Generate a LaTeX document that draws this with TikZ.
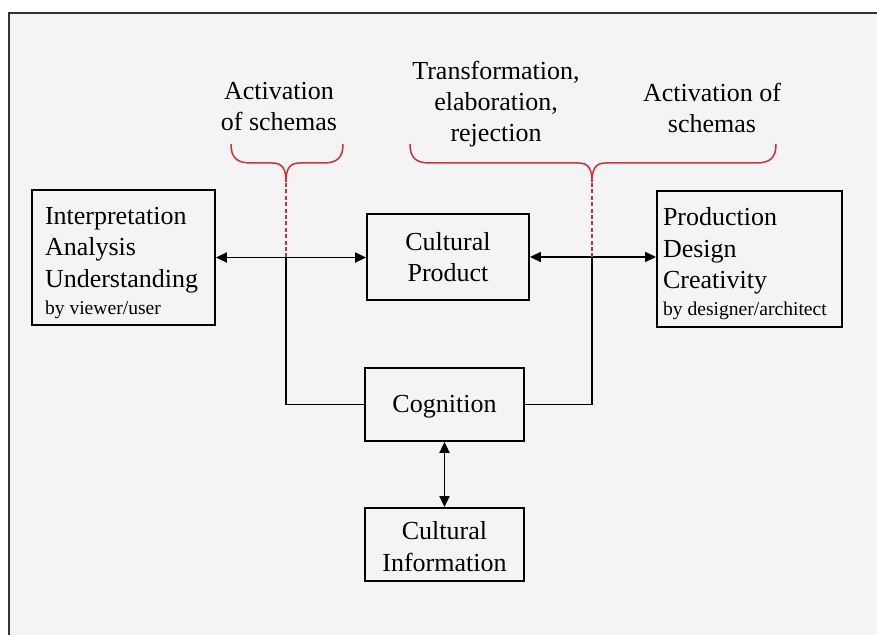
\documentclass[tikz,border=0pt]{standalone}
\usepackage{fontspec}
\setmainfont{Liberation Serif}
\usepackage{tikz}
\usetikzlibrary{arrows.meta, positioning, calc}

\definecolor{slidebg}{HTML}{F4F4F4}
\definecolor{bracered}{HTML}{D0303A}

\tikzset{
    box/.style={draw, line width=0.9pt, inner ysep=0pt, font=\fontsize{13}{15.7}\selectfont},
    link/.style={line width=0.9pt},
    arr/.style={link, {Triangle[length=5.5pt,width=5pt]}-{Triangle[length=5.5pt,width=5pt]}},
    reddash/.style={bracered, line width=0.6pt, dash pattern=on 2pt off 1.2pt},
    bracestyle/.style={bracered, line width=0.75pt},
    caption/.style={align=center, font=\fontsize{13}{15.5}\selectfont}
}

\begin{document}
\begin{tikzpicture}[x=0.5pt, y=-0.5pt]

    % Cadre
    \useasboundingbox (0,0) rectangle (877,635);
    \draw[fill=slidebg, line width=1pt, draw=black!80] (9,13) rectangle (890,650);

    % Boites
    \node[box, minimum width=91.5pt, minimum height=67.5pt, text width=78.5pt,
          inner xsep=6.5pt, align=flush left] (interp) at (123.5,257.5)
        {\rule{0pt}{14pt}Interpretation\\Analysis\\Understanding\\[-2pt]{\fontsize{9.8}{12}\selectfont by viewer/user}};
    \node[box, minimum width=81pt, minimum height=43pt, align=center] (product) at (448,257)
        {Cultural\\Product};
    \node[box, minimum width=92.5pt, minimum height=68pt, text width=86.5pt,
          inner xsep=3pt, align=flush left] (produce) at (749.5,259)
        {\rule{0pt}{14pt}Production\\Design\\Creativity\\[-2pt]{\fontsize{9.8}{12}\selectfont by designer/architect}};
    \node[box, minimum width=79.5pt, minimum height=36.5pt, text depth=1pt] (cognition) at (444.5,404.5)
        {Cognition};
    \node[box, minimum width=79.5pt, minimum height=36.5pt, align=center] (info) at (444.5,544.5)
        {\rule{0pt}{11pt}Cultural\\Information};

    % Textes du haut
    \node[caption] (actleft) at (279,107) {Activation\\of schemas};
    \node[caption] (transform) at (496,104) {Transformation,\\elaboration,\\rejection};
    \node[caption] (actright) at (712,108) {Activation of\\schemas};

    % Fleches
    \draw[arr] (interp.east) -- (interp.east -| product.west);
    \draw[arr] (product.east) -- (product.east -| produce.west);
    \draw[arr] (cognition.south) -- (info.north);

    % Boucles vers les accolades
    \coordinate (ljoin) at (286,257.5);
    \coordinate (ltip) at (286,182);
    \coordinate (rjoin) at (592,257.5);
    \coordinate (rtip) at (592,182);
    \draw[link] (cognition.west) -| (ljoin);
    \draw[link] (cognition.east) -| (rjoin);
    \draw[reddash] (ljoin) -- (ltip);
    \draw[reddash] (rjoin) -- (rtip);

    % Accolades
    \foreach \a/\m/\b in {231/286/343, 410/592/776} {
        \draw[bracestyle] (\a,144) .. controls (\a,158) and (\a+6,163) .. (\a+20,163)
            -- (\m-14,163) .. controls (\m-4,163) and (\m,168) .. (\m,182)
            .. controls (\m,168) and (\m+4,163) .. (\m+14,163)
            -- (\b-20,163) .. controls (\b-6,163) and (\b,158) .. (\b,144);
    }

\end{tikzpicture}
\end{document}
